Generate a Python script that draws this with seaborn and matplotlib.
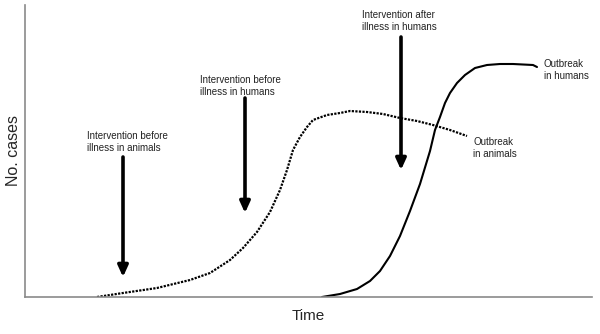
import numpy as np
import pandas as pd
import matplotlib
matplotlib.use("Agg")
import matplotlib.pyplot as plt
import seaborn as sns

# ── Curve values (time units, case units) ──
animal_time = [72, 98, 132, 165, 185, 205, 218, 232, 245, 255, 262, 268,
               275, 282, 288, 302, 315, 325, 342, 358, 375, 392, 408, 425, 442]
animal_cases = [0, 4, 9, 17, 24, 37, 49, 65, 85, 107, 127, 147,
                160, 170, 177, 182, 184, 186, 185, 183, 179, 176, 172, 167, 161]

human_time = [297, 315, 332, 345, 355, 365, 375, 385, 395, 405, 410, 415,
              420, 425, 432, 440, 450, 462, 475, 488, 508, 512]
human_cases = [0, 3, 8, 16, 26, 41, 61, 86, 113, 146, 167, 180,
               194, 204, 214, 222, 229, 232, 233, 233, 232, 230]

# arrows: x position, tail height, head height
arrow_x = [98, 220, 376]
arrow_top = [140, 199, 260]
arrow_tip = [20, 84, 127]

labels = ["Intervention before\nillness in animals",
          "Intervention before\nillness in humans",
          "Intervention after\nillness in humans"]
label_x = [62, 175, 337]
label_y = [166, 222, 287]

curve_labels = ["Outbreak\nin animals", "Outbreak\nin humans"]
curve_label_x = [448, 519]
curve_label_y = [160, 238]

sns.set_theme(style="white")
plt.rcParams['font.family'] = ['Liberation Sans', 'DejaVu Sans']

fig = plt.figure(figsize=(6.0, 3.34), dpi=100)
ax = fig.add_axes([25 / 600, 37 / 334, 567 / 600, 292 / 334])

animals = pd.DataFrame({"time": animal_time, "cases": animal_cases})
humans = pd.DataFrame({"time": human_time, "cases": human_cases})

sns.lineplot(data=animals, x="time", y="cases", ax=ax, color="black",
             linestyle=(0, (1, 0.6)), linewidth=1.6, sort=False)
sns.lineplot(data=humans, x="time", y="cases", ax=ax, color="black",
             linewidth=1.5, sort=False, solid_joinstyle="round")

for x, top, tip in zip(arrow_x, arrow_top, arrow_tip):
    ax.annotate("", xy=(x, tip), xytext=(x, top),
                arrowprops=dict(arrowstyle="-|>,head_width=0.25,head_length=0.55",
                                color="black", lw=2.6, shrinkA=0, shrinkB=0))

for txt, x, y in zip(labels, label_x, label_y):
    ax.text(x, y, txt, fontsize=7, color="#222222", va="top", ha="left",
            linespacing=1.25)

for txt, x, y in zip(curve_labels, curve_label_x, curve_label_y):
    ax.text(x, y, txt, fontsize=7, color="#222222", va="top", ha="left",
            linespacing=1.25)

ax.set_xlim(0, 567)
ax.set_ylim(0, 292)
ax.set_xticks([])
ax.set_yticks([])
for side in ["top", "right"]:
    ax.spines[side].set_visible(False)
for side in ["left", "bottom"]:
    ax.spines[side].set_color("#8a8a8a")
    ax.spines[side].set_linewidth(1.2)

ax.set_xlabel("Time", fontsize=11, labelpad=9)
ax.set_ylabel("No. cases", fontsize=11.5, labelpad=3)

fig.savefig("out.png", dpi=100)
